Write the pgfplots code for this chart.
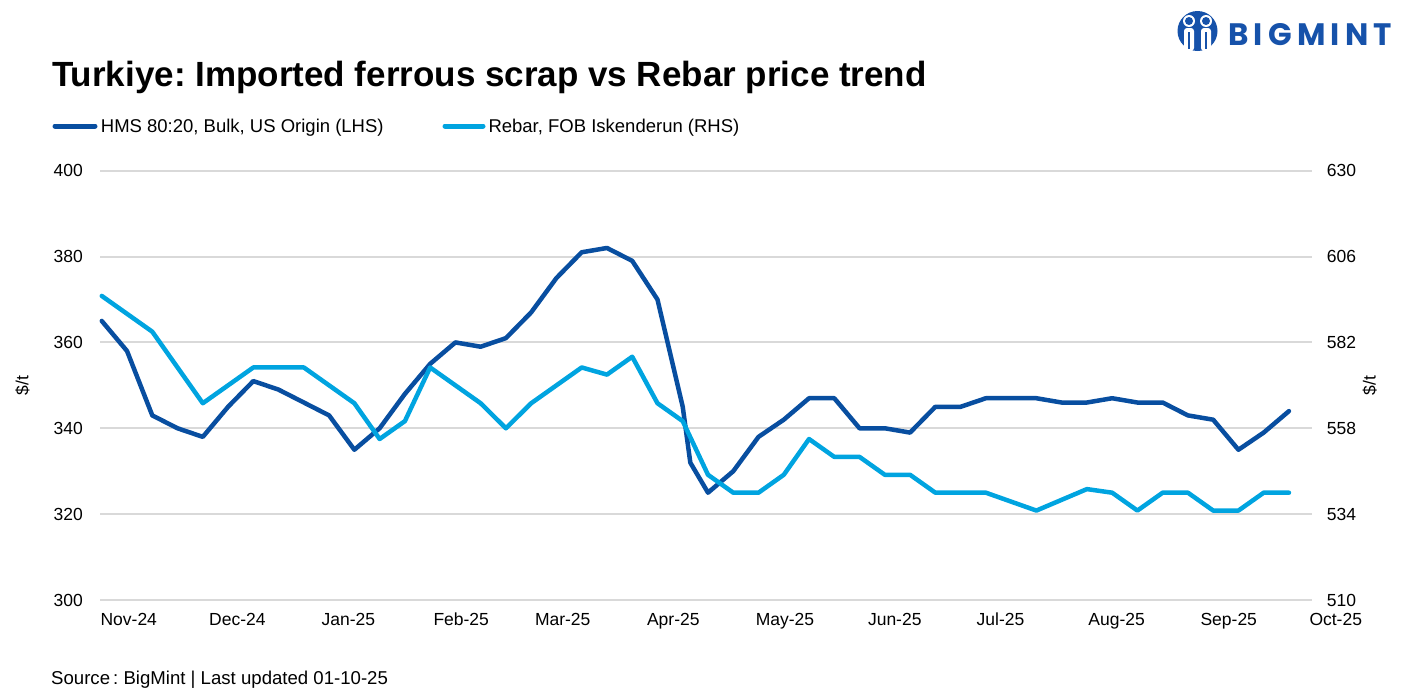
\documentclass[border=0pt]{standalone}
\usepackage{fontspec}
\setmainfont{Liberation Sans}
\newfontfamily\logofont[LetterSpace=17]{Poppins}
\usepackage{pgfplots}
\pgfplotsset{compat=1.18}
\definecolor{hms}{RGB}{8,78,160}
\definecolor{rebar}{RGB}{0,164,224}
\definecolor{gridc}{RGB}{217,217,217}
\definecolor{logo}{RGB}{22,82,170}
\frenchspacing

\pgfplotstableread{
x y
0 365
1 358
2 343
3 340
4 338
5 345
6 351
7 349
8 346
9 343
10 335
11 340
12 348
13 355
14 360
15 359
16 361
17 367
18 375
19 381
20 382
21 379
22 370
23 345
23.3 332
24 325
25 330
26 338
27 342
28 347
29 347
30 340
31 340
32 339
33 345
34 345
35 347
36 347
37 347
38 346
39 346
40 347
41 346
42 346
43 343
44 342
45 335
46 339
47 344
}\hmsdata

\pgfplotstableread{
x y
0 595
1 590
2 585
3 575
4 565
5 570
6 575
7 575
8 575
9 570
10 565
11 555
12 560
13 575
14 570
15 565
16 558
17 565
18 570
19 575
20 573
21 578
22 565
23 560
24 545
25 540
26 540
27 545
28 555
29 550
30 550
31 545
32 545
33 540
34 540
35 540
36 537.5
37 535
38 538
39 541
40 540
41 535
42 540
43 540
44 535
45 535
46 540
47 540
}\rebardata

\newcommand{\tickfont}{\fontsize{17.5bp}{20bp}\selectfont}

\begin{document}
\begin{tikzpicture}
\useasboundingbox (0,0) rectangle (1407bp,-699bp);
\pgfplotsset{
  common/.style={
    scale only axis, width=1211.7bp, height=429.3bp,
    at={(100bp,-600bp)}, anchor=south west,
    xmin=-0.07, xmax=47.9, clip=false,
    axis line style={draw=none}, tick style={draw=none}, major tick length=0pt,
    /pgf/number format/assume math mode=true,
    ticklabel style={font=\tickfont, inner sep=0pt},
    label style={font=\tickfont},
  }
}
\begin{axis}[common,
  ymin=300, ymax=400, ytick={300,320,...,400},
  ymajorgrids, grid style={gridc, line width=2bp},
  xtick={1.069,5.368,9.762,14.231,18.249,22.627,27.049,31.395,35.580,40.180,44.617},
  xticklabels={Nov-24,Dec-24,Jan-25,Feb-25,Mar-25,Apr-25,May-25,Jun-25,Jul-25,Aug-25,Sep-25},
  xticklabel style={anchor=north, yshift=-13bp},
  yticklabel style={anchor=east, xshift=-17bp},
  ylabel={\$/t},
  every axis y label/.style={at={(axis description cs:-0.064,0.5)}, rotate=90, anchor=center, font=\tickfont},
]
\addplot[hms, line width=4.5bp, line join=round, line cap=round] table[x=x,y=y]{\hmsdata};
\node[font=\tickfont, anchor=north, inner sep=0pt, yshift=-13bp] at (axis cs:48.853,300) {Oct-25};
\end{axis}
\begin{axis}[common,
  ymin=510, ymax=630, ytick={510,534,...,630},
  axis y line*=right, axis x line=none,
  yticklabel style={anchor=west, xshift=15bp},
  ylabel={\$/t},
  every axis y label/.style={at={(axis description cs:1.048,0.5)}, rotate=90, anchor=center, font=\tickfont},
]
\addplot[rebar, line width=4.5bp, line join=round, line cap=round] table[x=x,y=y]{\rebardata};
\end{axis}

% title
\node[anchor=base west, inner sep=0pt, font=\fontsize{35bp}{40bp}\selectfont\bfseries] at (52bp,-86bp) {Turkiye: Imported ferrous scrap vs Rebar price trend};
% legend
\draw[hms, line width=5bp, line cap=round] (55bp,-126bp) -- (95bp,-126bp);
\node[anchor=base west, inner sep=0pt, font=\fontsize{18.5bp}{22bp}\selectfont] at (100.7bp,-132.5bp) {HMS 80:20, Bulk, US Origin (LHS)};
\draw[rebar, line width=5bp, line cap=round] (445bp,-126bp) -- (483bp,-126bp);
\node[anchor=base west, inner sep=0pt, font=\fontsize{18.5bp}{22bp}\selectfont] at (488.3bp,-132.5bp) {Rebar, FOB Iskenderun (RHS)};
% source
\node[anchor=base west, inner sep=0pt, font=\fontsize{18.6bp}{22bp}\selectfont] at (51bp,-684.3bp) {Source\,: BigMint | Last updated 01-10-25};
% logo
\fill[logo] (1197.5bp,-31bp) circle (20bp);
\fill[white, rounded corners=3bp] (1184bp,-28bp) rectangle (1194bp,-51bp);
\fill[white, rounded corners=3bp] (1201bp,-28bp) rectangle (1211bp,-51bp);
\fill[white] (1189bp,-21bp) circle (6bp);
\fill[white] (1206bp,-21bp) circle (6bp);
\fill[logo] (1189bp,-21bp) circle (4bp);
\fill[logo] (1206bp,-21bp) circle (4bp);
\fill[logo] (1188bp,-32bp) rectangle (1190bp,-49bp);
\fill[logo] (1205bp,-32bp) rectangle (1207bp,-49bp);
\node[anchor=base west, inner sep=0pt, text=logo, font=\fontsize{31bp}{34bp}\selectfont\logofont\bfseries] at (1228bp,-45bp) {BIGMINT};
\end{tikzpicture}
\end{document}
